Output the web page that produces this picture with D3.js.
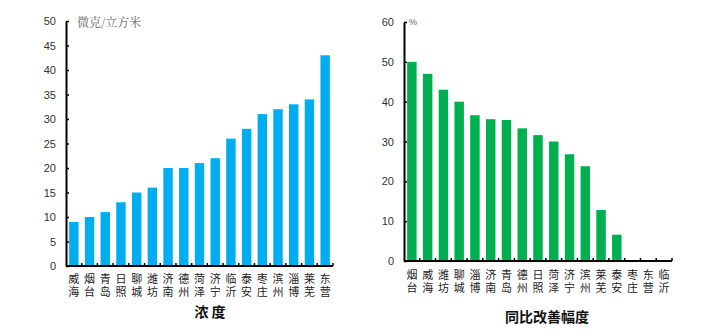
<!DOCTYPE html>
<html>
<head>
<meta charset="utf-8">
<script src="https://cdn.jsdelivr.net/npm/d3@7"></script>
<style>
  html, body { margin: 0; padding: 0; background: #fff; }
  svg { display: block; }
</style>
</head>
<body>
<svg id="chart" width="720" height="336"></svg>
<script>
// PM2.5 concentration by city (μg/m³)
const concCities = ["威海","烟台","青岛","日照","聊城","潍坊","济南","德州","菏泽","济宁","临沂","泰安","枣庄","滨州","淄博","莱芜","东营"];
const concValues = [9, 10, 11, 13, 15, 16, 20, 20, 21, 22, 26, 28, 31, 32, 33, 34, 43];
const concTicks = [0, 5, 10, 15, 20, 25, 30, 35, 40, 45, 50];

// Year-on-year improvement by city (%)
const imprCities = ["烟台","威海","潍坊","聊城","淄博","济南","青岛","德州","日照","菏泽","济宁","滨州","莱芜","泰安","枣庄","东营","临沂"];
const imprValues = [50, 47, 43, 40, 36.6, 35.6, 35.4, 33.3, 31.6, 30, 26.8, 23.8, 12.8, 6.6, 0, 0, 0];
const imprTicks = [0, 10, 20, 30, 40, 50, 60];

const svg = d3.select("#chart");
const tickFont = "Arial, 'Liberation Sans', sans-serif";
const cjkFont = "'Noto Sans CJK SC', sans-serif";

function drawPanel(opt) {
  const g = svg.append("g");
  const x = d3.scaleBand().domain(opt.cats).range([opt.x0, opt.x1]).paddingInner(0.4).paddingOuter(0.2);
  const y = d3.scaleLinear().domain([0, opt.max]).range([opt.y0, opt.y1]);

  g.selectAll("rect.bar").data(opt.values).join("rect")
    .attr("class", "bar")
    .attr("x", (d, i) => x(opt.cats[i]))
    .attr("width", x.bandwidth())
    .attr("y", d => y(d))
    .attr("height", d => opt.y0 - y(d))
    .attr("fill", opt.color);

  // y axis
  const ya = d3.axisLeft(y).tickValues(opt.ticks).tickSizeInner(-3).tickSizeOuter(0).tickPadding(10);
  const yg = g.append("g").attr("transform", `translate(${opt.x0},0)`).call(ya);
  yg.select(".domain").attr("stroke", "#000").attr("stroke-width", 2);
  yg.selectAll(".tick line").attr("stroke", "#000").attr("stroke-width", 1.5);
  yg.selectAll(".tick text").attr("font-family", tickFont).attr("font-size", 11).attr("fill", "#333");

  // x axis baseline with band-edge ticks
  const edges = d3.range(opt.cats.length + 1).map(i => opt.x0 + i * (opt.x1 - opt.x0) / opt.cats.length);
  g.append("line").attr("x1", opt.x0).attr("x2", opt.x1).attr("y1", opt.y0).attr("y2", opt.y0)
    .attr("stroke", "#000").attr("stroke-width", 2);
  g.selectAll("line.xt").data(edges.slice(1)).join("line").attr("class", "xt")
    .attr("x1", d => d).attr("x2", d => d).attr("y1", opt.y0).attr("y2", opt.y0 - 3)
    .attr("stroke", "#000").attr("stroke-width", 1.5);

  // city names, set vertically
  g.selectAll("text.cat").data(opt.cats).join("text").attr("class", "cat")
    .attr("x", d => x(d) + x.bandwidth() / 2)
    .attr("y", opt.y0 + opt.labOff)
    .style("writing-mode", "vertical-rl")
    .style("letter-spacing", "2px")
    .attr("font-family", cjkFont).attr("font-size", 11).attr("fill", "#222")
    .text(d => d);

  // unit
  g.append("text").attr("x", opt.unitX).attr("y", opt.unitY)
    .attr("font-family", opt.unitFont).attr("font-size", opt.unitSize).attr("fill", "#666").text(opt.unit);

  // panel title
  g.append("text").attr("x", opt.titleX).attr("y", opt.titleY).attr("text-anchor", "middle")
    .attr("font-family", cjkFont).attr("font-weight", "bold").attr("font-size", 14).attr("fill", "#111")
    .text(opt.title);
}

drawPanel({
  cats: concCities, values: concValues, ticks: concTicks, max: 50,
  x0: 66, x1: 333, y0: 266, y1: 21, color: "#00AEEF",
  labOff: 7, unit: "微克/立方米", unitX: 77, unitY: 27,
  unitFont: "'Noto Serif CJK SC', 'Noto Sans CJK SC', serif", unitSize: 12,
  title: "浓 度", titleX: 210, titleY: 317
});

drawPanel({
  cats: imprCities, values: imprValues, ticks: imprTicks, max: 60,
  x0: 404, x1: 672, y0: 261, y1: 22, color: "#00B050",
  labOff: 8, unit: "%", unitX: 409, unitY: 25,
  unitFont: tickFont, unitSize: 9,
  title: "同比改善幅度", titleX: 547, titleY: 322
});
</script>
</body>
</html>
